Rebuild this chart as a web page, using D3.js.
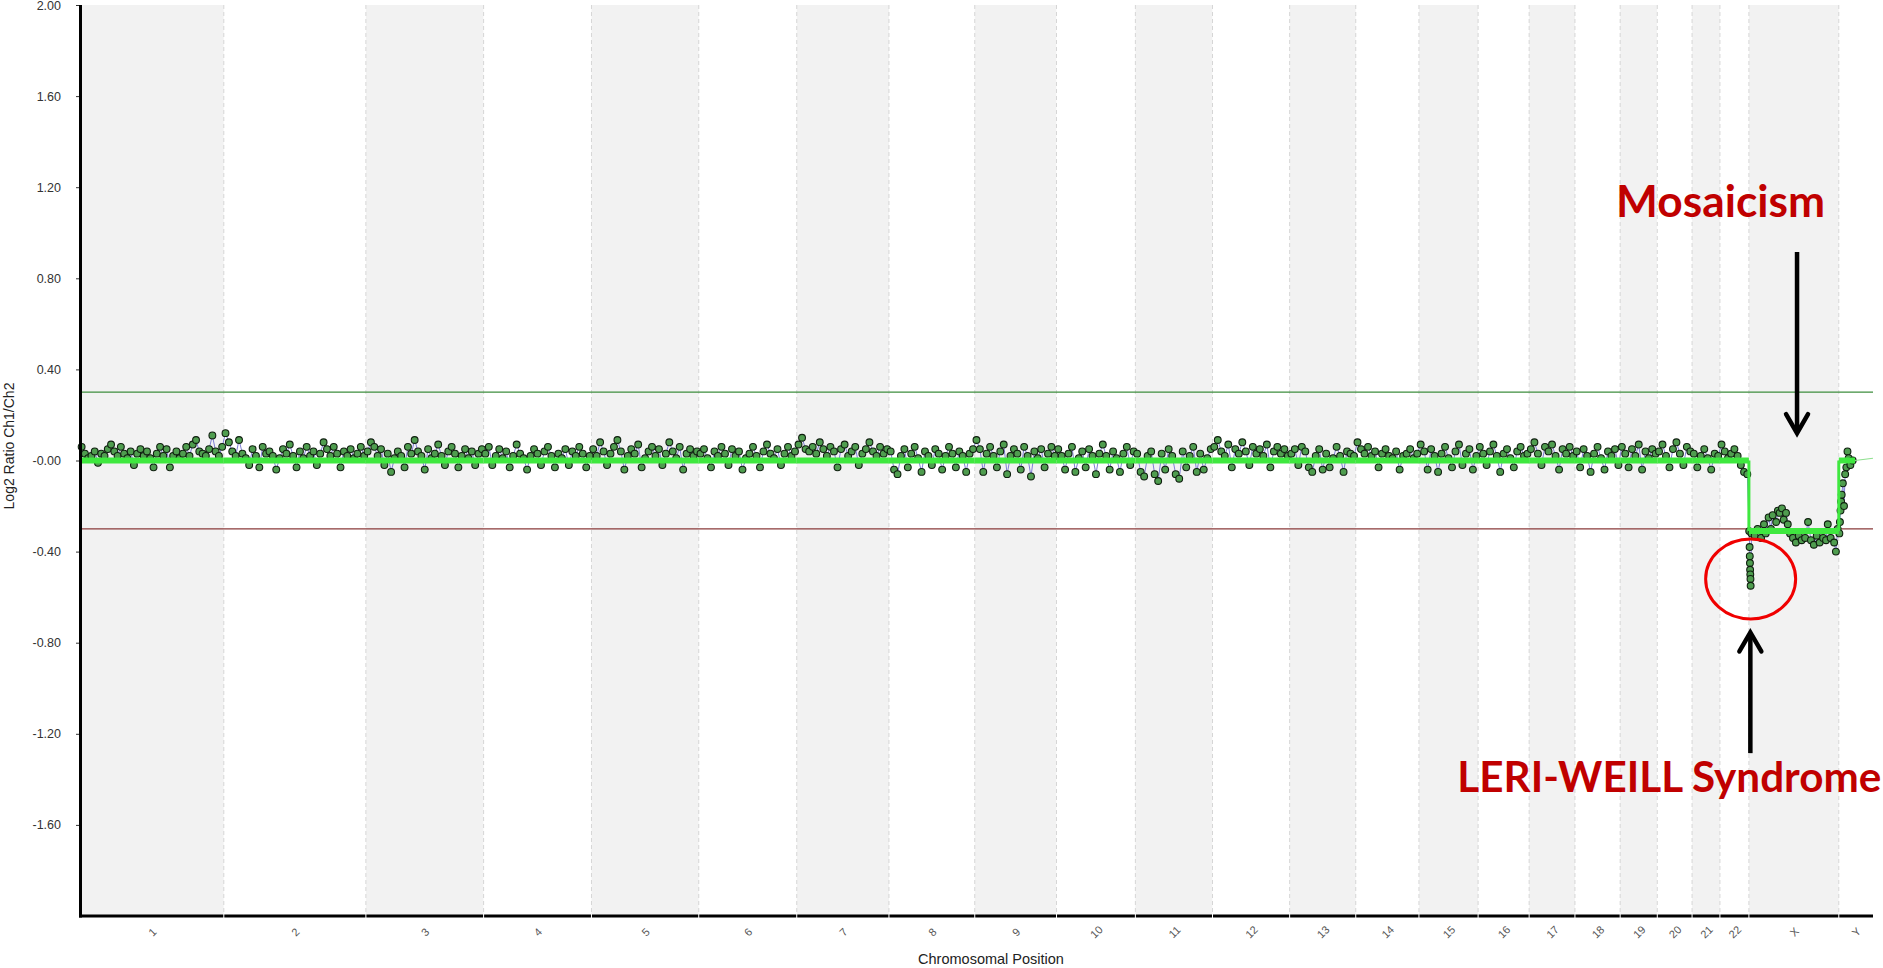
<!DOCTYPE html>
<html><head><meta charset="utf-8">
<script src="https://cdn.jsdelivr.net/npm/d3@7"></script>
<style>html,body{margin:0;padding:0;background:#fff;}svg{display:block;}</style>
</head><body>
<svg id="chart" width="1883" height="968"></svg>
<script>
// ---------------- DATA ----------------
const chromosomes = ["1","2","3","4","5","6","7","8","9","10","11","12","13","14","15","16","17","18","19","20","21","22","X","Y"];
const chromSizesMb = [248,245,203,186,185,169,159,148,141,136,133,133,114,109,102,88,79,78,64,60,48,50,155,59];
const yTicks = [2.0,1.6,1.2,0.8,0.4,0,-0.4,-0.8,-1.2,-1.6];
const yTickLabels = ["2.00","1.60","1.20","0.80","0.40","-0.00","-0.40","-0.80","-1.20","-1.60"];
const gainThreshold = 0.3;
const lossThreshold = -0.3;

// log2 ratios per autosome, in probe order
const chr1 = [.06,.03,.01,.02,.04,-.01,.03,.02,.05,.07,.04,.02,.06,.03,.01,.04,-.02,.03,.05,.02,.04,.01,-.03,.03,.06,.02,.05,-.03,.02,.04,.01,.03,.06,.02,.07,.09,.04,.03,.02,.05,.11,.04,.02,.06];
const chr2 = [.12,.08,.04,.02,.09,.03,.01,-.02,.05,.02,-.03,.06,.03,.04,.02,-.04,.01,.05,.03,.07,.02,-.03,.04,.01,.06,.02,.04,-.02,.03,.08,.05,.02,.06,.03,-.03,.04,.02,.05,.01,.03,.06,.02];
const chr3 = [.04,.08,.06,.02,.05,-.02,.03,-.05,.01,.04,.02,-.03,.06,.03,.09,.04,.02,-.04,.05,.01,.03,.07,.02,-.02,.04,.06,.03,-.03,.02,.05,.01,.04,-.02,.03,.05];
const chr4 = [.03,.06,-.02,.02,.05,.01,.04,-.03,.02,.07,.03,.01,-.04,.02,.05,.03,-.02,.04,.06,.02,-.03,.03,.01,.05,-.02,.04,.02,.06,.03,-.03,.02];
const chr5 = [.05,.02,.08,.04,-.02,.03,.06,.09,.04,-.04,.02,.05,.03,.07,-.03,.01,.04,.06,.02,.05,-.02,.03,.08,.04,.01,.06,-.04,.03,.05,.02,.04];
const chr6 = [.03,.05,.01,-.03,.04,.02,.06,.03,-.02,.05,.02,.04,-.04,.01,.03,.06,.02,-.03,.04,.07,.03,.01,.05,-.02,.03,.06,.02,.04];
const chr7 = [.07,.10,.05,.04,.06,.03,.08,.05,.02,.06,.04,-.03,.05,.07,.02,.04,.06,-.02,.03,.05,.08,.04,.02,.06,.03,.05];
const chr8 = [.04,-.04,-.06,.02,.05,-.03,.03,.06,.01,-.05,.04,.02,-.02,.05,.03,-.04,.02,.06,.03,-.03,.04,.02,-.05,.03,.05];
const chr9 = [.09,.05,-.05,.03,.06,.02,-.03,.04,.07,-.06,.02,.05,.03,-.04,.06,.02,-.07,.04,.01,.05,-.03,.03,.06,.02];
const chr10 = [.05,.02,-.04,.03,.06,-.05,.01,.04,-.03,.05,.02,-.06,.03,.07,.02,-.04,.04,.01,-.05,.03,.06,-.02,.04];
const chr11 = [.03,-.05,-.07,.02,.04,-.06,-.09,.03,-.04,.05,.02,-.06,-.08,.04,-.03,.02,.06,-.05,.03,-.04,.01,.05];
const chr12 = [.06,.09,.04,.02,.07,-.03,.05,.03,.08,.04,-.02,.06,.03,.05,.02,.07,-.03,.04,.06,.03,.05,.02];
const chr13 = [.03,.05,-.02,.06,.04,-.03,-.05,.02,.05,-.04,.03,-.03,.01,.06,.02,-.05,.04,.03,.02];
const chr14 = [.08,.05,.03,.06,.02,.04,-.03,.03,.05,.02,.01,.04,-.04,.02,.03,.05,.01,.03];
const chr15 = [.07,.04,-.04,.05,.02,-.05,.03,.06,.01,-.03,.04,.07,-.02,.03,.05,-.04,.02];
const chr16 = [.06,.03,-.02,.04,.07,.02,-.05,.03,.05,.01,-.03,.04,.06,.02,.03];
const chr17 = [.05,.08,.03,-.02,.06,.04,.07,.02,-.04,.05,.03,.06,.02];
const chr18 = [.04,-.03,.05,.02,-.05,.03,.06,.01,-.04,.04,.02,.05,-.02];
const chr19 = [.06,.03,-.03,.05,.02,.07,-.04,.04,.01,.05,.03];
const chr20 = [.04,.07,.02,-.03,.05,.08,.03,-.02,.06,.04];
const chr21 = [.03,-.03,.02,.05,.01,-.04,.03,.02];
const chr22 = [.07,.04,.01,.03,.05,.02,-.02,-.05,-.06];

// sex chromosomes: [position Mb, log2 ratio]
const chrX = [[0.5,-.31],[1.2,-.38],[1.5,-.42],[1.8,-.45],[2.1,-.48],[2.4,-.50],[2.7,-.52],[3.0,-.55],[4.5,-.32],
  [10,-.33],[15,-.30],[21,-.34],[26,-.28],[29,-.32],[34,-.25],[38,-.30],[41,-.24],[47,-.27],[50,-.22],[53,-.23],
  [57,-.21],[60,-.26],[64,-.23],[67,-.28],[71,-.32],[76,-.34],[81,-.36],[86,-.33],[91,-.35],[97,-.34],[102,-.27],
  [107,-.35],[112,-.37],[117,-.33],[122,-.36],[128,-.34],[133,-.35],[136,-.28],[141,-.34],[147,-.36],[150,-.40],[153,-.30]];
const chrY = [[1,-.32],[2,-.27],[3,-.22],[4,-.18],[5,-.15],[7,-.10],[9,-.20],[11,-.06],[13,-.03],[15,.04],[17,.01],[20,-.02],[24,.00]];

// segmentation levels per chromosome
const segmentLevels = [0,0,0,0,0,0,0,0,0,0,0,0,0,0,0,0,0,0,0,0,0,0,-0.31,0];
const segmentEndsMb = [248,245,203,186,185,169,159,148,141,136,133,133,114,109,102,88,79,78,64,60,48,50,155,28];

// ---------------- LAYOUT ----------------
const svg = d3.select("#chart");
const L = 80, R = 1873, T = 5, B = 916;
const starts = [];
let acc = 0;
chromSizesMb.forEach(s => { starts.push(acc); acc += s; });
const totalMb = acc;

const x = d3.scaleLinear().domain([0, totalMb]).range([L, R]);
const y = d3.scaleLinear().domain([-2, 2]).range([B, T]);

// bands
svg.append("g").selectAll("rect").data(chromosomes).join("rect")
  .attr("x", (d,i) => x(starts[i])).attr("y", T)
  .attr("width", (d,i) => x(starts[i] + chromSizesMb[i]) - x(starts[i]))
  .attr("height", B - T)
  .attr("fill", (d,i) => i % 2 === 0 ? "#f2f2f2" : "#ffffff");

// boundaries
svg.append("g").selectAll("line").data(starts.slice(1)).join("line")
  .attr("x1", d => x(d)).attr("x2", d => x(d))
  .attr("y1", T).attr("y2", B)
  .attr("stroke", "#d6d6d6").attr("stroke-width", 1).attr("stroke-dasharray", "4,3");

// thresholds
svg.append("line").attr("x1", L).attr("x2", R).attr("y1", y(gainThreshold)).attr("y2", y(gainThreshold))
  .attr("stroke", "#3e8e3e").attr("stroke-width", 1.3);
svg.append("line").attr("x1", L).attr("x2", R).attr("y1", y(lossThreshold)).attr("y2", y(lossThreshold))
  .attr("stroke", "#8a3a3a").attr("stroke-width", 1.3);

// build probe list
const autosomes = [chr1,chr2,chr3,chr4,chr5,chr6,chr7,chr8,chr9,chr10,chr11,chr12,chr13,chr14,chr15,chr16,chr17,chr18,chr19,chr20,chr21,chr22];
const probes = [];
autosomes.forEach((vals, ci) => {
  vals.forEach((v, i) => probes.push({pos: starts[ci] + (i + 0.5) / vals.length * chromSizesMb[ci], v}));
});
chrX.forEach(([p, v]) => probes.push({pos: starts[22] + p, v}));
chrY.forEach(([p, v]) => probes.push({pos: starts[23] + p, v}));

// connecting line
svg.append("path").datum(probes)
  .attr("d", d3.line().x(d => x(d.pos)).y(d => y(d.v)))
  .attr("fill", "none").attr("stroke", "#7f7fd6").attr("stroke-width", 1);

// dots
svg.append("g").selectAll("circle").data(probes).join("circle")
  .attr("cx", d => x(d.pos)).attr("cy", d => y(d.v)).attr("r", 3.4)
  .attr("fill", "#4f9d4f").attr("stroke", "#0f1f0f").attr("stroke-width", 1.1);

// segmentation
const seg = svg.append("g");
segmentLevels.forEach((lv, i) => {
  seg.append("line").attr("x1", x(starts[i])).attr("x2", x(starts[i] + segmentEndsMb[i]))
    .attr("y1", y(lv)).attr("y2", y(lv))
    .attr("stroke", "#3fe83f").attr("stroke-width", 6);
  if (i > 0 && segmentLevels[i-1] !== lv) {
    seg.append("line").attr("x1", x(starts[i])).attr("x2", x(starts[i]))
      .attr("y1", y(segmentLevels[i-1])).attr("y2", y(lv))
      .attr("stroke", "#3fe83f").attr("stroke-width", 3);
  }
});
// thin tail of Y
seg.append("line").attr("x1", x(starts[23] + segmentEndsMb[23])).attr("x2", x(totalMb))
  .attr("y1", y(0)).attr("y2", y(0.01)).attr("stroke", "#8ee08e").attr("stroke-width", 1.2);

// axes
const yAxis = d3.axisLeft(y).tickValues(yTicks).tickFormat((d,i) => yTickLabels[i]).tickSize(4).tickPadding(15);
const gy = svg.append("g").attr("transform", `translate(${L},0)`).call(yAxis);
gy.select(".domain").remove();
gy.selectAll(".tick line").attr("stroke", "#333");
gy.selectAll(".tick text").attr("font-family", "Liberation Sans, Arial, sans-serif").attr("font-size", 12.5).attr("fill", "#333");

const mids = chromSizesMb.map((s,i) => starts[i] + s / 2);
const xAxis = d3.axisBottom(x).tickValues(mids).tickFormat((d,i) => chromosomes[i]).tickSize(0);
const gx = svg.append("g").attr("transform", `translate(0,${B})`).call(xAxis);
gx.select(".domain").remove();
gx.selectAll(".tick text").attr("y", 0).attr("dy", "0.35em")
  .attr("transform", "translate(0,16) rotate(-45)")
  .attr("font-family", "Liberation Sans, Arial, sans-serif").attr("font-size", 11).attr("fill", "#555")
  .style("text-anchor", "middle");

svg.append("line").attr("x1", L + 0.5).attr("x2", L + 0.5).attr("y1", T).attr("y2", B + 1.5)
  .attr("stroke", "#000").attr("stroke-width", 3);
svg.append("line").attr("x1", L - 1).attr("x2", R).attr("y1", B).attr("y2", B)
  .attr("stroke", "#000").attr("stroke-width", 3);
svg.append("g").selectAll("line").data(starts.slice(1)).join("line")
  .attr("x1", d => x(d)).attr("x2", d => x(d)).attr("y1", B - 2).attr("y2", B + 2)
  .attr("stroke", "#fff").attr("stroke-width", 1);

// axis titles
svg.append("text").attr("x", 991).attr("y", 964).attr("text-anchor", "middle")
  .attr("font-family", "Liberation Sans, Arial, sans-serif").attr("font-size", 14.5).attr("fill", "#222")
  .text("Chromosomal Position");
svg.append("text").attr("transform", "translate(14,446) rotate(-90)").attr("text-anchor", "middle")
  .attr("font-family", "Liberation Sans, Arial, sans-serif").attr("font-size", 14).attr("fill", "#222")
  .text("Log2 Ratio Ch1/Ch2");

// ---------------- ANNOTATIONS ----------------
const xStart = starts[22];
const ann = svg.append("g");
ann.append("ellipse").attr("cx", x(xStart + 3)).attr("cy", y(-0.52)).attr("rx", 45).attr("ry", 40)
  .attr("fill", "none").attr("stroke", "#f00000").attr("stroke-width", 3);

function arrow(ax, y1, y2) { // y2 = tip
  const dir = y2 > y1 ? 1 : -1;
  ann.append("line").attr("x1", ax).attr("x2", ax).attr("y1", y1).attr("y2", y2 - dir * 2)
    .attr("stroke", "#000").attr("stroke-width", 4.5);
  ann.append("path").attr("d", `M${ax-11},${y2 - dir*19} L${ax},${y2} L${ax+11},${y2 - dir*19}`)
    .attr("fill", "none").attr("stroke", "#000").attr("stroke-width", 4.5)
    .attr("stroke-linejoin", "miter").attr("stroke-linecap", "round");
}
const mArrowX = x(xStart + 83);
arrow(mArrowX, y(0.915), y(0.12));
const lArrowX = x(xStart + 2.5);
arrow(lArrowX, y(-1.285), y(-0.755));

function fitText(txt, anchor, ax, ay, targetW) {
  const t = ann.append("text").attr("x", ax).attr("y", ay).attr("text-anchor", anchor)
    .attr("font-family", "Lato, 'Open Sans', sans-serif").attr("font-weight", "bold")
    .attr("font-size", 40).attr("fill", "#c00000").text(txt);
  const w = t.node().getComputedTextLength();
  t.attr("font-size", 40 * targetW / w);
}
fitText("Mosaicism", "end", mArrowX + 28, y(0.915) - 35, 209);
fitText("LERI-WEILL Syndrome", "start", lArrowX - 293, y(-1.285) + 39, 424);
</script>
</body></html>
